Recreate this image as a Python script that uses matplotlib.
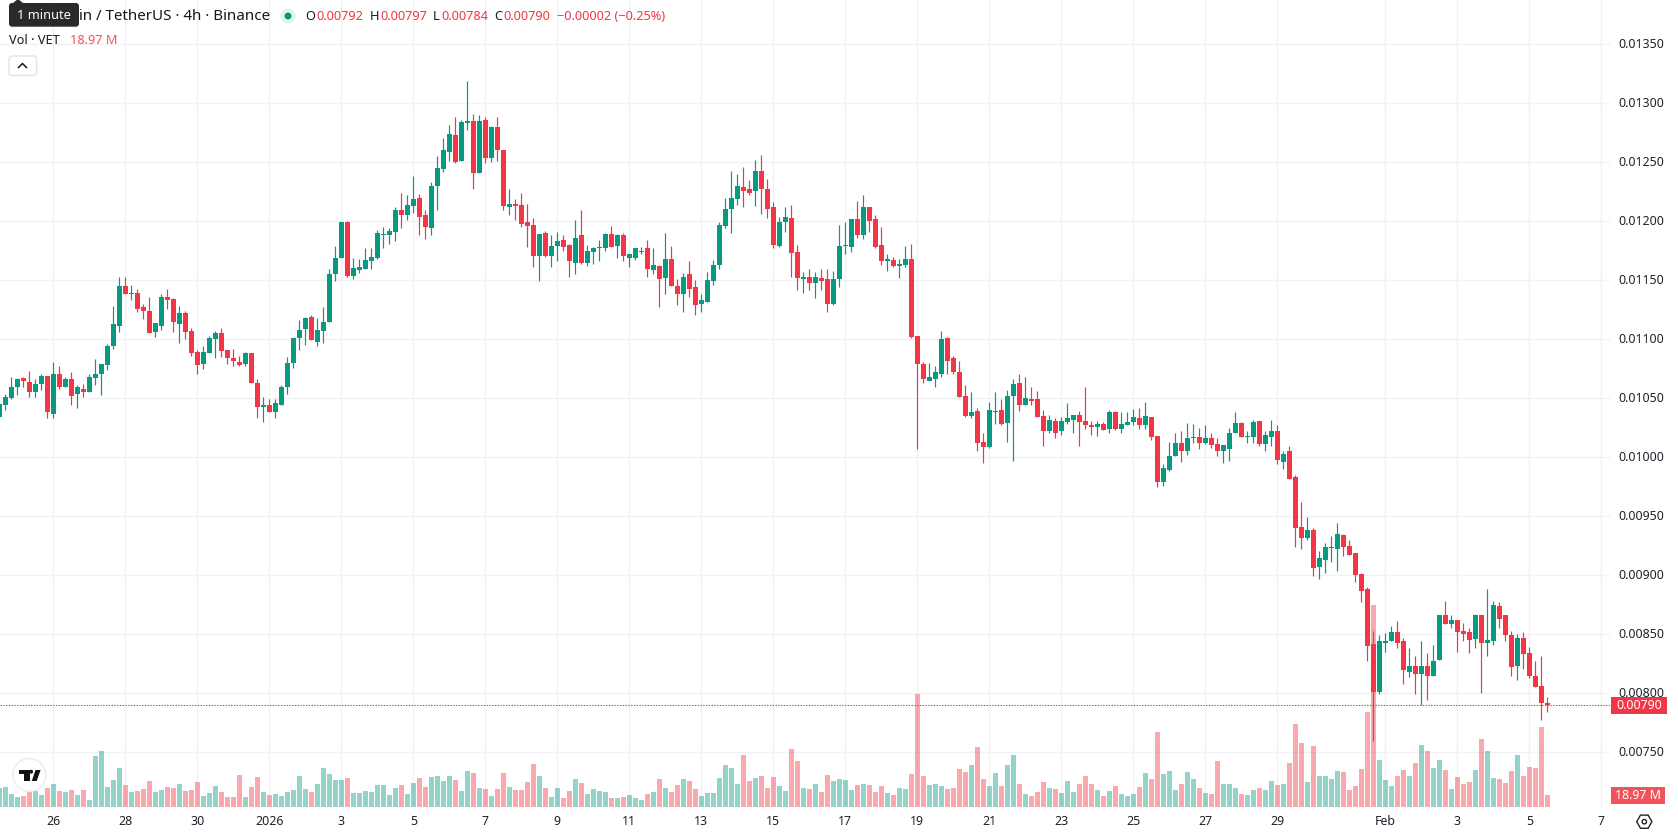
"""VET/USDT 4h candlesticks with a volume pane, in a trading-terminal layout."""

import matplotlib

matplotlib.use("Agg")
import matplotlib.pyplot as plt
import numpy as np
from matplotlib.patches import Circle, FancyBboxPatch, Polygon, Rectangle, RegularPolygon

UP = "#089981"
DOWN = "#F23645"
GRID = "#F0F1F4"
INK = "#131722"

# 4h bars, prices in units of the 0.00001 tick. Bar 9 opens 26 December.
OPEN = [
    1034, 1044, 1050, 1060, 1067, 1064, 1055, 1062, 1069,
    1037, 1071, 1060, 1066, 1054, 1058, 1055, 1067, 1071, 1078,
    1094, 1111, 1145, 1138, 1139, 1127, 1124, 1106, 1111, 1136,
    1134, 1113, 1122, 1107, 1089, 1079, 1088, 1100, 1105, 1091,
    1084, 1081, 1079, 1088, 1063, 1043, 1044, 1038, 1044, 1060,
    1080, 1101, 1109, 1119, 1098, 1107, 1115, 1155, 1169, 1199,
    1154, 1159, 1160, 1166, 1169, 1188, 1188, 1191, 1210, 1205,
    1213, 1220, 1205, 1194, 1230, 1244, 1259, 1273, 1251, 1283,
    1285, 1241, 1286, 1254, 1280, 1260, 1212, 1215, 1214, 1199,
    1197, 1171, 1190, 1171, 1179, 1184, 1180, 1165, 1188, 1165,
    1174, 1177, 1177, 1189, 1179, 1188, 1169, 1169, 1174, 1177,
    1159, 1162, 1152, 1168, 1145, 1138, 1155, 1144, 1130, 1132,
    1149, 1163, 1196, 1210, 1219, 1229, 1227, 1226, 1243, 1227,
    1212, 1179, 1199, 1203, 1174, 1151, 1153, 1148, 1152, 1151,
    1130, 1151, 1179, 1178, 1202, 1188, 1212, 1202, 1180, 1166,
    1167, 1162, 1163, 1168, 1103, 1079, 1065, 1066, 1071, 1101,
    1084, 1072, 1052, 1035, 1039, 1013, 1009, 1038, 1040, 1029,
    1052, 1063, 1044, 1049, 1049, 1035, 1022, 1031, 1022, 1030,
    1032, 1036, 1031, 1027, 1026, 1028, 1024, 1038, 1024, 1027,
    1030, 1033, 1027, 1034, 1018, 979, 989, 1001, 1012, 1005,
    1016, 1017, 1012, 1016, 1011, 1005, 1007, 1021, 1029, 1017,
    1017, 1031, 1011, 1017, 1022, 996, 1005, 983, 941, 932,
    938, 907, 913, 923, 922, 934, 925, 919, 901, 888,
    842, 801, 843, 844, 852, 844, 818, 823, 816, 823,
    815, 828, 866, 859, 862, 853, 852, 846, 866, 843,
    844, 874, 866, 849, 823, 847, 834, 815, 806, 792,
]
HIGH = [
    1046, 1054, 1068, 1067, 1068, 1073, 1066, 1071, 1069,
    1081, 1077, 1068, 1072, 1061, 1062, 1071, 1083, 1079, 1096,
    1128, 1153, 1153, 1146, 1143, 1130, 1136, 1114, 1138, 1143,
    1135, 1128, 1124, 1110, 1091, 1094, 1103, 1107, 1110, 1091,
    1092, 1086, 1089, 1088, 1066, 1051, 1049, 1049, 1061, 1085,
    1101, 1116, 1119, 1121, 1118, 1127, 1160, 1179, 1199, 1200,
    1169, 1168, 1177, 1177, 1193, 1195, 1194, 1212, 1224, 1222,
    1238, 1223, 1210, 1233, 1255, 1271, 1282, 1288, 1286, 1319,
    1291, 1290, 1288, 1281, 1288, 1260, 1227, 1219, 1224, 1215,
    1203, 1189, 1192, 1188, 1191, 1188, 1181, 1201, 1210, 1180,
    1178, 1184, 1190, 1196, 1189, 1190, 1172, 1177, 1178, 1184,
    1177, 1163, 1190, 1179, 1151, 1156, 1166, 1150, 1138, 1157,
    1167, 1199, 1220, 1243, 1240, 1246, 1235, 1252, 1256, 1236,
    1216, 1204, 1212, 1214, 1180, 1157, 1160, 1157, 1160, 1160,
    1158, 1197, 1199, 1202, 1217, 1222, 1212, 1205, 1195, 1172,
    1170, 1168, 1179, 1181, 1103, 1081, 1080, 1077, 1107, 1102,
    1086, 1082, 1061, 1055, 1042, 1021, 1047, 1055, 1049, 1057,
    1066, 1071, 1068, 1060, 1056, 1040, 1036, 1033, 1034, 1046,
    1036, 1039, 1060, 1031, 1031, 1030, 1040, 1039, 1038, 1038,
    1041, 1042, 1047, 1034, 1018, 994, 1013, 1021, 1022, 1029,
    1028, 1025, 1027, 1021, 1016, 1010, 1025, 1038, 1030, 1022,
    1032, 1031, 1022, 1032, 1027, 1005, 1010, 985, 962, 949,
    940, 921, 927, 933, 944, 935, 930, 919, 902, 890,
    853, 849, 851, 857, 861, 847, 838, 832, 844, 834,
    841, 866, 878, 866, 862, 860, 855, 867, 866, 888,
    878, 877, 866, 853, 850, 852, 839, 827, 832, 797,
]
LOW = [
    1033, 1040, 1049, 1053, 1060, 1051, 1051, 1057, 1033,
    1033, 1058, 1060, 1044, 1042, 1051, 1055, 1061, 1053, 1074,
    1092, 1106, 1138, 1133, 1123, 1117, 1105, 1102, 1108, 1126,
    1106, 1097, 1100, 1086, 1071, 1075, 1088, 1084, 1085, 1079,
    1077, 1077, 1077, 1063, 1033, 1030, 1038, 1033, 1044, 1054,
    1076, 1091, 1095, 1099, 1094, 1097, 1115, 1149, 1169, 1153,
    1151, 1156, 1160, 1160, 1168, 1177, 1181, 1183, 1194, 1201,
    1207, 1188, 1185, 1188, 1210, 1242, 1251, 1249, 1251, 1277,
    1227, 1241, 1249, 1250, 1251, 1210, 1205, 1201, 1195, 1178,
    1161, 1149, 1170, 1161, 1166, 1175, 1153, 1155, 1164, 1162,
    1164, 1166, 1175, 1178, 1169, 1166, 1161, 1167, 1172, 1153,
    1155, 1127, 1138, 1145, 1129, 1123, 1136, 1121, 1123, 1132,
    1146, 1160, 1194, 1190, 1214, 1212, 1222, 1213, 1206, 1203,
    1177, 1178, 1191, 1153, 1142, 1139, 1142, 1135, 1142, 1123,
    1129, 1144, 1172, 1174, 1186, 1185, 1191, 1177, 1163, 1158,
    1161, 1152, 1161, 1101, 1007, 1063, 1065, 1060, 1068, 1071,
    1071, 1051, 1034, 1033, 1005, 995, 1008, 1028, 1027, 1013,
    997, 1039, 1044, 1044, 1034, 1010, 1021, 1016, 1019, 1028,
    1021, 1010, 1024, 1019, 1018, 1023, 1021, 1023, 1021, 1027,
    1027, 1024, 1024, 1015, 975, 976, 988, 1001, 996, 1002,
    1012, 1007, 1011, 1008, 1001, 995, 997, 1021, 1017, 1012,
    1012, 1010, 1005, 1010, 994, 990, 982, 924, 922, 930,
    899, 897, 902, 911, 904, 916, 917, 894, 877, 827,
    760, 799, 835, 844, 838, 808, 814, 799, 790, 794,
    815, 828, 859, 855, 835, 844, 834, 838, 800, 832,
    841, 855, 844, 815, 811, 821, 813, 805, 777, 784,
]
CLOSE = [
    1045, 1051, 1060, 1066, 1065, 1055, 1062, 1069, 1038,
    1071, 1060, 1066, 1052, 1060, 1055, 1068, 1071, 1079, 1094,
    1113, 1145, 1138, 1139, 1126, 1124, 1105, 1114, 1136, 1133,
    1115, 1122, 1106, 1088, 1078, 1089, 1101, 1105, 1090, 1084,
    1082, 1078, 1088, 1063, 1043, 1044, 1038, 1046, 1060, 1080,
    1101, 1108, 1118, 1099, 1108, 1115, 1155, 1169, 1199, 1154,
    1160, 1161, 1167, 1170, 1190, 1189, 1192, 1210, 1205, 1214,
    1219, 1204, 1195, 1230, 1245, 1260, 1274, 1250, 1284, 1285,
    1241, 1285, 1254, 1280, 1260, 1213, 1215, 1213, 1198, 1196,
    1171, 1189, 1171, 1179, 1183, 1178, 1166, 1186, 1165, 1175,
    1177, 1178, 1189, 1178, 1188, 1171, 1172, 1177, 1175, 1160,
    1163, 1151, 1168, 1145, 1138, 1153, 1143, 1129, 1133, 1150,
    1163, 1197, 1210, 1220, 1230, 1226, 1224, 1243, 1227, 1210,
    1180, 1199, 1204, 1173, 1152, 1153, 1148, 1153, 1149, 1130,
    1151, 1179, 1180, 1202, 1188, 1212, 1200, 1178, 1166, 1168,
    1162, 1164, 1168, 1102, 1079, 1066, 1068, 1072, 1100, 1082,
    1072, 1051, 1035, 1038, 1012, 1009, 1040, 1039, 1028, 1052,
    1062, 1044, 1050, 1048, 1034, 1022, 1032, 1021, 1031, 1033,
    1036, 1030, 1027, 1026, 1028, 1023, 1038, 1024, 1028, 1030,
    1034, 1027, 1035, 1017, 979, 991, 1001, 1012, 1005, 1016,
    1017, 1012, 1016, 1010, 1005, 1010, 1021, 1029, 1017, 1018,
    1030, 1011, 1019, 1022, 998, 1003, 982, 940, 932, 938,
    906, 915, 924, 924, 935, 924, 917, 900, 887, 840,
    801, 844, 844, 852, 843, 820, 823, 816, 823, 815,
    827, 866, 859, 862, 852, 850, 845, 866, 843, 845,
    875, 863, 849, 822, 847, 833, 815, 805, 792, 790,
]
# volume per bar, millions of VET
VOLUME = [
    30.0, 31.6, 20.6, 15.8, 17.4, 23.7, 25.3, 19.0, 30.0,
    36.4, 25.3, 23.7, 26.9, 19.0, 26.9, 11.1, 80.6, 88.5, 31.6,
    42.7, 61.7, 34.8, 23.7, 25.3, 28.5, 41.1, 23.7, 26.9, 31.6,
    30.0, 36.4, 25.3, 26.9, 39.5, 17.4, 22.1, 33.2, 23.7, 15.8,
    15.8, 50.6, 15.8, 31.6, 47.4, 23.7, 19.0, 20.6, 17.4, 23.7,
    26.9, 49.0, 28.5, 23.7, 36.4, 61.7, 52.2, 42.7, 42.7, 45.8,
    22.1, 22.1, 25.3, 23.7, 34.8, 34.8, 19.0, 30.0, 34.8, 20.6,
    37.9, 45.8, 31.6, 47.4, 49.0, 41.1, 49.0, 42.7, 25.3, 56.9,
    53.8, 30.0, 28.5, 17.4, 28.5, 53.8, 31.6, 26.9, 26.9, 39.5,
    68.0, 49.0, 30.0, 15.8, 30.0, 14.2, 25.3, 44.3, 37.9, 20.6,
    28.5, 25.3, 23.7, 14.2, 14.2, 15.8, 19.0, 14.2, 11.1, 20.6,
    23.7, 44.3, 30.0, 23.7, 34.8, 44.3, 41.1, 28.5, 17.4, 22.1,
    22.1, 45.8, 66.4, 61.7, 36.4, 82.2, 41.1, 45.8, 49.0, 30.0,
    47.4, 33.2, 25.3, 91.7, 72.7, 30.0, 28.5, 36.4, 23.7, 50.6,
    41.1, 44.3, 42.7, 26.9, 34.8, 36.4, 34.8, 23.7, 33.2, 22.1,
    19.0, 30.0, 28.5, 52.2, 178.7, 49.0, 34.8, 36.4, 33.2, 28.5,
    30.0, 60.1, 55.3, 66.4, 94.9, 44.3, 33.2, 53.8, 33.2, 66.4,
    82.2, 36.4, 20.6, 17.4, 23.7, 39.5, 30.0, 28.5, 22.1, 41.1,
    23.7, 36.4, 49.0, 36.4, 26.9, 17.4, 25.3, 33.2, 20.6, 17.4,
    20.6, 31.6, 53.8, 44.3, 118.6, 52.2, 56.9, 26.9, 36.4, 55.3,
    44.3, 30.0, 22.1, 20.6, 72.7, 36.4, 36.4, 30.0, 20.6, 19.0,
    26.9, 30.0, 26.9, 41.1, 34.8, 36.4, 69.6, 131.2, 101.2, 39.5,
    96.4, 49.0, 49.0, 44.3, 56.9, 55.3, 26.9, 33.2, 60.1, 150.2,
    319.4, 74.3, 42.7, 33.2, 49.0, 58.5, 49.0, 69.6, 98.0, 88.5,
    61.7, 74.3, 58.5, 28.5, 47.4, 36.4, 39.5, 58.5, 107.5, 88.5,
    45.8, 44.3, 37.9, 56.9, 82.2, 49.0, 63.2, 61.7, 126.5, 18.97,
]

DAY_OFFSETS = [0, 2, 4, 6, 8, 10, 12, 14, 16, 18, 20, 22, 24, 26, 28, 30, 32, 34, 37, 39, 41, 43]
DAY_LABELS = ["26", "28", "30", "2026", "3", "5", "7", "9", "11", "13", "15", "17",
              "19", "21", "23", "25", "27", "29", "Feb", "3", "5", "7"]
PRICE_TICKS = [0.0135, 0.0130, 0.0125, 0.0120, 0.0115, 0.0110, 0.0105, 0.0100,
               0.0095, 0.0090, 0.0085, 0.0080, 0.0075]
BARS_PER_DAY = 6
FIRST_DAY_BAR = 9
LAST_PRICE = 0.00790
LAST_VOLUME = "18.97 M"

W, H = 1678, 835
PANE_W, PANE_H = 1610, 808
FONT = "Noto Sans"

o, h, l, c = (np.array(a) * 1e-5 for a in (OPEN, HIGH, LOW, CLOSE))
vol = np.array(VOLUME)
bars = np.arange(len(o))
rising = c >= o
colors = np.where(rising, UP, DOWN)
day_bars = FIRST_DAY_BAR + BARS_PER_DAY * np.array(DAY_OFFSETS)

fig = plt.figure(figsize=(W / 100, H / 100), dpi=100, facecolor="white")
rect = [0, (H - PANE_H) / H, PANE_W / W, PANE_H / H]

ax = fig.add_axes(rect)
# 6 px per bar, 59 px per 0.0005
ax.set_xlim(FIRST_DAY_BAR - 53.33 / 6, FIRST_DAY_BAR + (PANE_W - 53.33) / 6)
ax.set_ylim(0.0130 - (PANE_H - 103.3) * 0.0005 / 59, 0.0130 + 103.3 * 0.0005 / 59)
ax.set_xticks(day_bars)
ax.set_yticks(PRICE_TICKS)
ax.grid(True, color=GRID, lw=1.0)
ax.set_axisbelow(True)
ax.tick_params(length=0, labelbottom=False, labelleft=False)
for s in ax.spines.values():
    s.set_visible(False)

ax.axhline(LAST_PRICE, color=DOWN, lw=0.8, ls=(0, (1.2, 1.3)), zorder=1)
ax.vlines(bars, l, h, colors=colors, lw=0.85, zorder=2)
ax.bar(bars, np.abs(c - o), bottom=np.minimum(o, c), width=5 / 6, color=colors, lw=0, zorder=3)

# volume pane shares the x scale, 18.97 M stands 12 px tall
vax = fig.add_axes(rect, sharex=ax, facecolor="none")
vax.set_ylim(-1 * 18.97 / 12, (PANE_H - 1) * 18.97 / 12)
vax.bar(bars, vol, width=5 / 6, color=colors, alpha=0.43, lw=0)
vax.axis("off")

# header, price scale and time scale, positioned in pixels
ui = fig.add_axes([0, 0, 1, 1], facecolor="none")
ui.set_xlim(0, W)
ui.set_ylim(H, 0)
ui.axis("off")


def label(x, y, s, size=9.2, color=INK, ha="left", **kw):
    ui.text(x, y, s, fontsize=size, color=color, ha=ha, va="center", family=FONT, **kw)


for price in PRICE_TICKS:
    y = 103.3 + (0.0130 - price) / 0.0005 * 59
    label(1618, y + 0.5, f"{price:.5f}", size=8.9, color="#1f222b")

for bar, text in zip(day_bars, DAY_LABELS):
    x = 53.33 + (bar - FIRST_DAY_BAR) * 6
    label(x, 821.5, text, size=8.9, color="#1f222b", ha="center",
          fontweight="bold" if text == "2026" else "normal")

y_last = 103.3 + (0.0130 - LAST_PRICE) / 0.0005 * 59
ui.add_patch(Rectangle((1611, y_last - 8.5), 56, 17, color=DOWN, lw=0))
label(1639, y_last, f"{LAST_PRICE:.5f}", size=8.9, color="white", ha="center")
ui.add_patch(Rectangle((1611, 787), 53.7, 17, color="#F05359", lw=0))
label(1638, 795.5, LAST_VOLUME, size=8.9, color="white", ha="center")

# settings hexagon, points left and right
ui.add_patch(RegularPolygon((1644.3, 821.7), 6, radius=7.6, orientation=np.pi / 6,
                            fill=False, ec="#1f222b", lw=1.0))
ui.add_patch(Circle((1644.3, 821.7), 2.2, fill=False, ec="#1f222b", lw=1.0))

# legend rows; the start of the symbol name sits under the tooltip
label(270, 16, "in / TetherUS · 4h · Binance", size=10.9, ha="right")
ui.add_patch(Circle((288, 16), 7.5, color="#E3F3F0", lw=0))
ui.add_patch(Circle((288, 16), 3.5, color=UP, lw=0))
for x, letter in [(305, "O"), (370, "H"), (433, "L"), (494, "C")]:
    label(x, 16.5, letter, size=9.2)
for x, value in [(316, "0.00792"), (380, "0.00797"), (441, "0.00784"), (503, "0.00790"),
                 (557, "−0.00002 (−0.25%)")]:
    label(x, 16.5, value, size=9.2, color=DOWN)
label(9, 40.5, "Vol · VET", size=9.2)
label(70, 40.5, LAST_VOLUME, size=9.2, color="#F05359")

# collapse button
ui.add_patch(FancyBboxPatch((9, 56), 27.5, 19.5, boxstyle="round,pad=0,rounding_size=3",
                            fc="white", ec="#E0E3EB", lw=1.0))
ui.plot([18.5, 22.5, 26.5], [67.5, 63.5, 67.5], color=INK, lw=1.1)

# tooltip over the start of the symbol name
ui.add_patch(FancyBboxPatch((9, 3), 70, 23.7, boxstyle="round,pad=0,rounding_size=3",
                            fc="#2A2A2C", ec="none"))
ui.add_patch(Polygon([(13, 3), (18, -1), (23, 3)], fc="#2A2A2C", ec="none"))
label(44, 15.5, "1 minute", size=9.2, color="white", ha="center")

# watermark badge
ui.add_patch(Circle((29.3, 775), 16.5, fc="white", ec="#E9EAEE", lw=1.0, alpha=0.9))
ui.add_patch(Polygon([(19, 770), (29.5, 770), (29.5, 781), (24.3, 781), (24.3, 774), (19, 774)],
                     fc="#111111", ec="none"))
ui.add_patch(Circle((31.2, 771.7), 1.9, fc="#111111", ec="none"))
ui.add_patch(Polygon([(35.5, 770), (40.6, 770), (36.7, 781), (31.8, 781)], fc="#111111", ec="none"))

fig.savefig("out.png", dpi=100, facecolor="white")
plt.close(fig)
